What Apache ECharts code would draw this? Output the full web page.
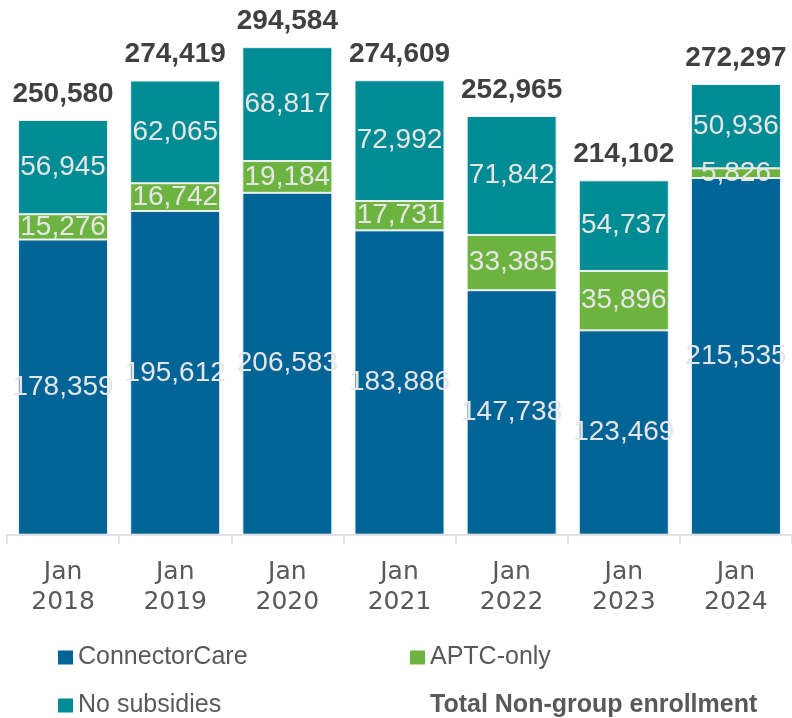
<!DOCTYPE html>
<html>
<head>
<meta charset="utf-8">
<script src="https://cdn.jsdelivr.net/npm/echarts@6/dist/echarts.min.js"></script>
<style>
html,body{margin:0;padding:0;background:#fff;}
#chart{width:792px;height:718px;}
</style>
</head>
<body>
<div id="chart"></div>
<script>
const categories = ['Jan\n2018','Jan\n2019','Jan\n2020','Jan\n2021','Jan\n2022','Jan\n2023','Jan\n2024'];
const connectorCare = [178359,195612,206583,183886,147738,123469,215535];
const aptcOnly = [15276,16742,19184,17731,33385,35896,5826];
const noSubsidies = [56945,62065,68817,72992,71842,54737,50936];
const totals = [250580,274419,294584,274609,252965,214102,272297];

const fmt = v => v.toLocaleString('en-US');
const innerLabel = {
  show: true, position: 'inside', color: '#e7e6e6',
  fontFamily: 'Liberation Sans', fontSize: 28,
  formatter: p => fmt(p.value)
};
const border = { borderColor: '#f0f0f0', borderWidth: 1 };

const legendBase = {
  icon: 'rect', itemWidth: 15, itemHeight: 14, orient: 'horizontal', padding: 0,
  itemStyle: { borderWidth: 0 },
  textStyle: { fontFamily: 'Liberation Sans', fontSize: 25, color: '#595959' }
};

const chart = echarts.init(document.getElementById('chart'));
chart.setOption({
  animation: false,
  backgroundColor: '#ffffff',
  grid: { left: 7, right: -3, top: 38.2, bottom: 183.3, containLabel: false },
  xAxis: {
    type: 'category', data: categories,
    axisLine: { lineStyle: { color: '#d9d9d9', width: 1.5 } },
    axisTick: { show: true, length: 9, lineStyle: { color: '#d9d9d9', width: 1.5 } },
    axisLabel: { color: '#595959', fontFamily: 'DejaVu Sans', fontSize: 25, lineHeight: 30, margin: 23 }
  },
  yAxis: { type: 'value', min: 0, max: 300000, show: false, splitLine: { show: false } },
  legend: [
    Object.assign({}, legendBase, { left: 58, top: 645, data: ['ConnectorCare'] }),
    Object.assign({}, legendBase, { left: 410, top: 645, data: ['APTC-only'] }),
    Object.assign({}, legendBase, { left: 58, top: 693, data: ['No subsidies'] }),
    Object.assign({}, legendBase, { left: 410, top: 693,
      data: [{ name: 'Total Non-group enrollment', itemStyle: { opacity: 0 },
               textStyle: { fontWeight: 'bold', color: '#595959' } }] })
  ],
  series: [
    { name: 'ConnectorCare', type: 'bar', stack: 'a', barWidth: 90, data: connectorCare,
      itemStyle: Object.assign({ color: '#006496' }, border), label: innerLabel },
    { name: 'APTC-only', type: 'bar', stack: 'a', barWidth: 90, data: aptcOnly,
      itemStyle: Object.assign({ color: '#6cb33f' }, border), label: innerLabel },
    { name: 'No subsidies', type: 'bar', stack: 'a', barWidth: 90, data: noSubsidies,
      itemStyle: Object.assign({ color: '#008c95' }, border), label: innerLabel },
    { name: 'Total Non-group enrollment', type: 'bar', barWidth: 90, barGap: '-100%', data: totals,
      itemStyle: { color: 'rgba(0,0,0,0)', borderWidth: 0 }, z: 1,
      label: { show: true, position: 'top', distance: 12, color: '#404040',
               fontFamily: 'Liberation Sans', fontWeight: 'bold', fontSize: 28,
               formatter: p => fmt(p.value) } }
  ]
});
</script>
</body>
</html>
